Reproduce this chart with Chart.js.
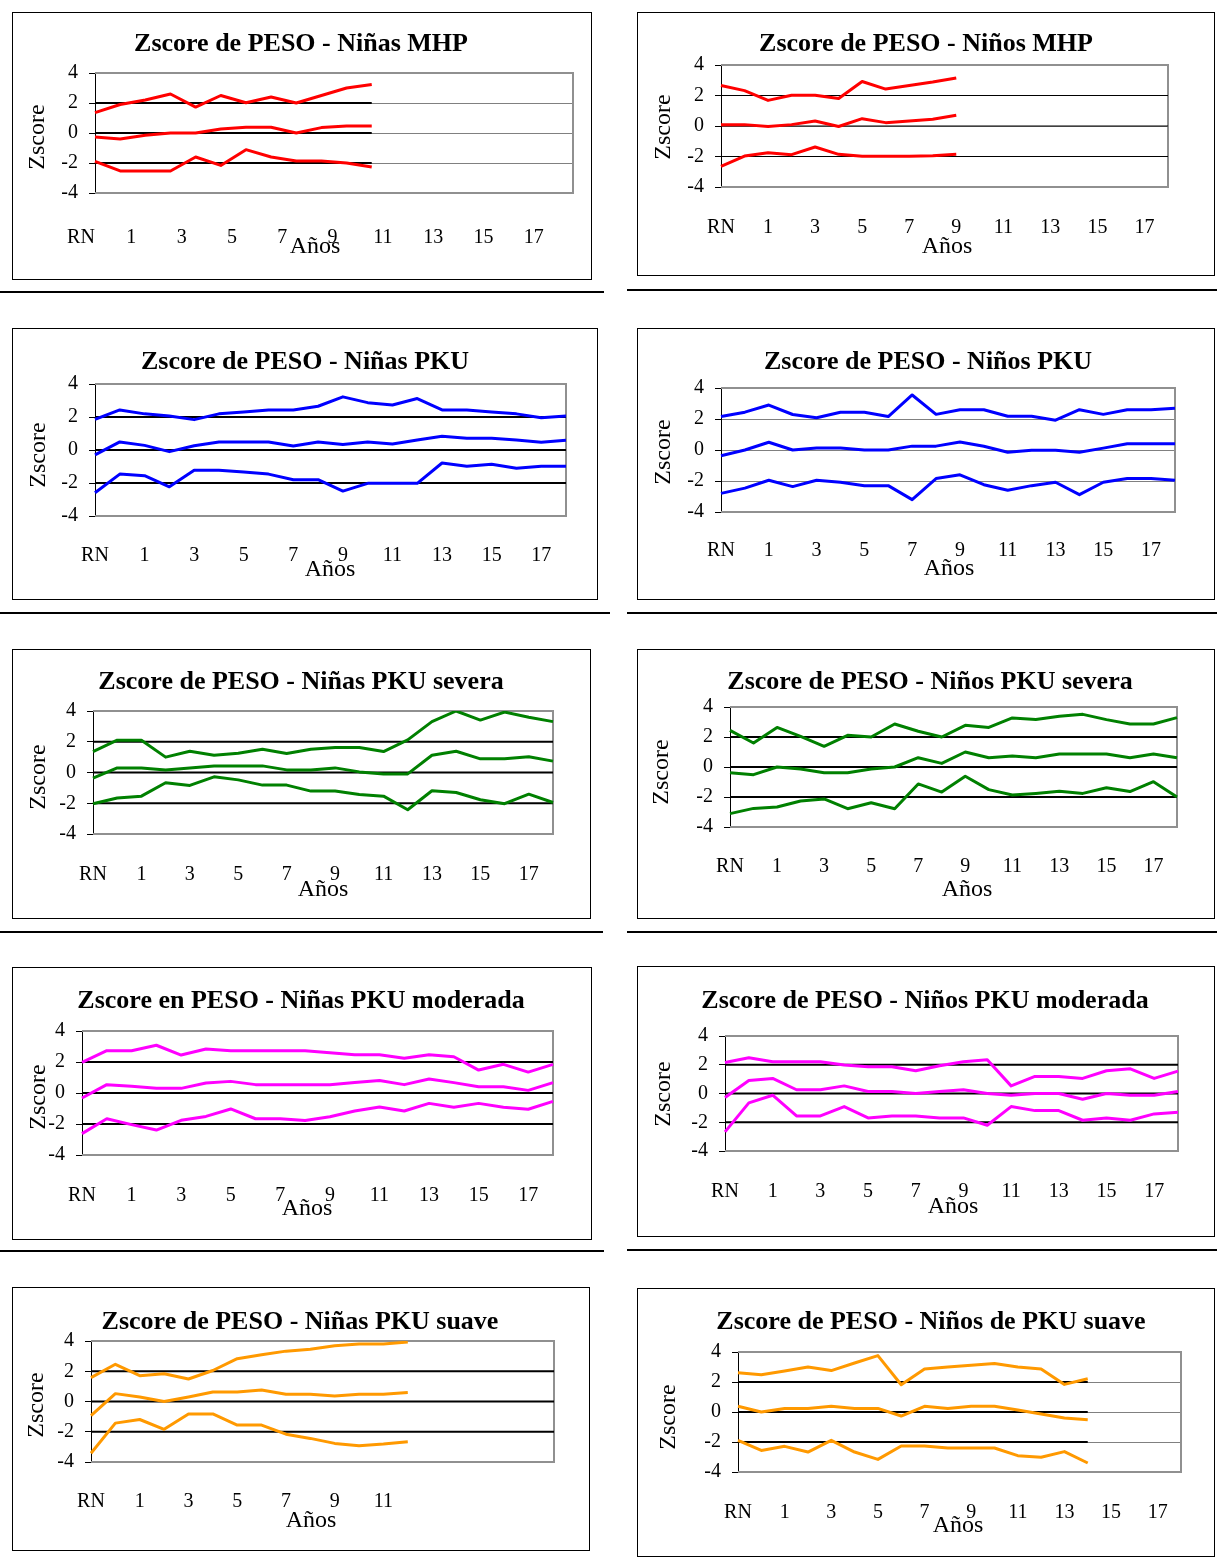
<!DOCTYPE html>
<html>
<head>
<meta charset="utf-8">
<title>Zscore de PESO</title>
<script src="https://cdn.jsdelivr.net/npm/chart.js@4.4.0/dist/chart.umd.min.js"></script>
<style>
  body { margin: 0; background: #fff; }
  #page { position: relative; width: 1217px; height: 1558px; overflow: hidden; }
  canvas { position: absolute; }
  .rule { position: absolute; height: 2px; background: #000; }
</style>
</head>
<body>
<div id="page"></div>
<script>
// categories (edad), one label shown every two
const AGES = ['RN', '6m', '1', '2', '3', '4', '5', '6', '7', '8', '9', '10', '11', '12', '13', '14', '15', '16', '17', '18']
const REF_LEVELS = [2, 0, -2]

// Niñas MHP
const ninasMhpSup = [1.36, 1.9, 2.2, 2.6, 1.73, 2.5, 2.02, 2.4, 2.0, 2.5, 3.0, 3.24]
const ninasMhpMed = [-0.27, -0.4, -0.15, 0, 0, 0.27, 0.38, 0.38, 0, 0.36, 0.47, 0.47]
const ninasMhpInf = [-1.89, -2.53, -2.53, -2.53, -1.6, -2.16, -1.11, -1.6, -1.87, -1.87, -2.0, -2.27]
// Niños MHP
const ninosMhpSup = [2.65, 2.32, 1.68, 2.02, 2.02, 1.8, 2.92, 2.42, 2.65, 2.88, 3.15]
const ninosMhpMed = [0.09, 0.09, -0.03, 0.09, 0.33, -0.03, 0.48, 0.22, 0.32, 0.44, 0.7]
const ninosMhpInf = [-2.65, -1.97, -1.75, -1.88, -1.38, -1.86, -1.98, -1.98, -1.98, -1.95, -1.86]
// Niñas PKU
const ninasPkuSup = [1.86, 2.43, 2.19, 2.06, 1.84, 2.19, 2.31, 2.43, 2.43, 2.65, 3.22, 2.87, 2.73, 3.12, 2.43, 2.43, 2.31, 2.19, 1.96, 2.06]
const ninasPkuMed = [-0.3, 0.49, 0.28, -0.1, 0.26, 0.49, 0.49, 0.49, 0.24, 0.49, 0.34, 0.49, 0.36, 0.6, 0.83, 0.71, 0.71, 0.6, 0.47, 0.59]
const ninasPkuInf = [-2.59, -1.46, -1.56, -2.23, -1.23, -1.23, -1.34, -1.46, -1.8, -1.8, -2.49, -2.02, -2.02, -2.02, -0.79, -0.99, -0.87, -1.11, -0.99, -0.99]
// Niños PKU
const ninosPkuSup = [2.16, 2.44, 2.9, 2.29, 2.08, 2.44, 2.44, 2.16, 3.55, 2.3, 2.6, 2.6, 2.18, 2.18, 1.92, 2.6, 2.3, 2.6, 2.6, 2.7]
const ninosPkuMed = [-0.37, 0, 0.5, 0, 0.13, 0.13, 0, 0, 0.25, 0.25, 0.52, 0.24, -0.15, -0.02, -0.02, -0.15, 0.12, 0.4, 0.4, 0.4]
const ninosPkuInf = [-2.8, -2.46, -1.95, -2.36, -1.95, -2.08, -2.3, -2.3, -3.2, -1.84, -1.6, -2.24, -2.6, -2.3, -2.08, -2.88, -2.08, -1.84, -1.84, -1.95]
// Niñas PKU severa
const ninasSevSup = [1.36, 2.1, 2.1, 1.0, 1.38, 1.12, 1.25, 1.51, 1.23, 1.51, 1.62, 1.62, 1.36, 2.12, 3.31, 4.0, 3.41, 3.93, 3.59, 3.31]
const ninasSevMed = [-0.37, 0.3, 0.3, 0.17, 0.3, 0.43, 0.43, 0.43, 0.17, 0.17, 0.3, 0.04, -0.09, -0.09, 1.12, 1.38, 0.89, 0.89, 1.02, 0.74]
const ninasSevInf = [-2.03, -1.66, -1.54, -0.67, -0.84, -0.28, -0.48, -0.82, -0.82, -1.21, -1.21, -1.43, -1.54, -2.42, -1.19, -1.3, -1.77, -2.03, -1.41, -1.95]
// Niños PKU severa
const ninosSevSup = [2.44, 1.6, 2.64, 2.04, 1.38, 2.11, 2.0, 2.87, 2.38, 2.0, 2.78, 2.64, 3.27, 3.16, 3.38, 3.51, 3.16, 2.87, 2.87, 3.29]
const ninosSevMed = [-0.38, -0.51, 0, -0.13, -0.38, -0.38, -0.13, 0, 0.62, 0.24, 1.0, 0.62, 0.73, 0.62, 0.87, 0.87, 0.87, 0.62, 0.87, 0.62]
const ninosSevInf = [-3.11, -2.76, -2.67, -2.27, -2.13, -2.78, -2.38, -2.78, -1.13, -1.67, -0.62, -1.51, -1.87, -1.76, -1.62, -1.76, -1.38, -1.64, -0.98, -2.0]
// Niñas PKU moderada
const ninasModSup = [1.98, 2.73, 2.73, 3.08, 2.45, 2.84, 2.73, 2.73, 2.73, 2.73, 2.6, 2.47, 2.47, 2.24, 2.47, 2.34, 1.48, 1.85, 1.35, 1.85]
const ninasModMed = [-0.32, 0.54, 0.43, 0.3, 0.3, 0.65, 0.75, 0.54, 0.54, 0.54, 0.54, 0.67, 0.8, 0.54, 0.9, 0.67, 0.41, 0.41, 0.17, 0.67]
const ninasModInf = [-2.62, -1.66, -2.04, -2.39, -1.76, -1.51, -1.03, -1.66, -1.66, -1.78, -1.53, -1.16, -0.9, -1.16, -0.67, -0.92, -0.67, -0.92, -1.05, -0.54]
// Niños PKU moderada
const ninosModSup = [2.16, 2.49, 2.21, 2.21, 2.21, 1.98, 1.86, 1.86, 1.58, 1.93, 2.21, 2.35, 0.53, 1.19, 1.19, 1.05, 1.58, 1.72, 1.05, 1.56]
const ninosModMed = [-0.28, 0.91, 1.05, 0.26, 0.26, 0.53, 0.14, 0.14, 0, 0.14, 0.26, 0, -0.12, 0, 0, -0.4, 0, -0.12, -0.12, 0.14]
const ninosModInf = [-2.67, -0.65, -0.12, -1.56, -1.56, -0.91, -1.7, -1.56, -1.56, -1.7, -1.7, -2.21, -0.91, -1.19, -1.19, -1.86, -1.7, -1.86, -1.42, -1.3]
// Niñas PKU suave
const ninasSuaSup = [1.58, 2.46, 1.71, 1.84, 1.49, 2.05, 2.83, 3.09, 3.33, 3.46, 3.68, 3.8, 3.8, 3.93]
const ninasSuaMed = [-0.93, 0.52, 0.3, 0, 0.3, 0.63, 0.63, 0.76, 0.48, 0.48, 0.37, 0.48, 0.48, 0.6]
const ninasSuaInf = [-3.42, -1.43, -1.19, -1.84, -0.82, -0.82, -1.56, -1.56, -2.16, -2.44, -2.77, -2.92, -2.81, -2.66]
// Niños de PKU suave
const ninosSuaSup = [2.62, 2.49, 2.73, 3.0, 2.76, 3.27, 3.76, 1.82, 2.87, 3.0, 3.11, 3.24, 3.0, 2.87, 1.84, 2.22]
const ninosSuaMed = [0.38, 0, 0.24, 0.24, 0.38, 0.24, 0.24, -0.27, 0.38, 0.24, 0.38, 0.38, 0.13, -0.13, -0.4, -0.51]
const ninosSuaInf = [-1.89, -2.56, -2.29, -2.67, -1.89, -2.67, -3.16, -2.27, -2.27, -2.4, -2.4, -2.4, -2.91, -3.02, -2.64, -3.4]

const RED = '#ff0000', BLUE = '#0000ff', GREEN = '#008000', PINK = '#ff00ff', ORANGE = '#ff9900'

// box / plot rectangles are page coords: [left, top, right, bottom]
const charts = [
  { title: 'Zscore de PESO - Niñas MHP', color: RED, series: [ninasMhpSup, ninasMhpMed, ninasMhpInf],
    box: [12, 12, 592, 280], plot: [95, 73, 573, 193], titleAt: [301, 44], zAt: [38, 137], aAt: [315, 247], labelY: 238, labelOffset: -14, refEnd: 11, refWidth: 2, shown: 20 },
  { title: 'Zscore de PESO - Niños MHP', color: RED, series: [ninosMhpSup, ninosMhpMed, ninosMhpInf],
    box: [637, 12, 1215, 276], plot: [721, 65, 1168, 187], titleAt: [926, 44], zAt: [664, 127], aAt: [947, 247], labelY: 228, labelOffset: 0, refEnd: 19, refWidth: 1, shown: 20 },
  { title: 'Zscore de PESO - Niñas PKU', color: BLUE, series: [ninasPkuSup, ninasPkuMed, ninasPkuInf],
    box: [12, 328, 598, 600], plot: [95, 384, 566, 516], titleAt: [305, 362], zAt: [39, 455], aAt: [330, 570], labelY: 556, labelOffset: 0, refEnd: 19, refWidth: 2, shown: 20 },
  { title: 'Zscore de PESO - Niños PKU', color: BLUE, series: [ninosPkuSup, ninosPkuMed, ninosPkuInf],
    box: [637, 328, 1215, 600], plot: [721, 388, 1175, 512], titleAt: [928, 362], zAt: [664, 452], aAt: [949, 569], labelY: 551, labelOffset: 0, refEnd: null, refWidth: 0, shown: 20 },
  { title: 'Zscore de PESO - Niñas PKU severa', color: GREEN, series: [ninasSevSup, ninasSevMed, ninasSevInf],
    box: [12, 649, 591, 919], plot: [93, 711, 553, 834], titleAt: [301, 682], zAt: [39, 777], aAt: [323, 890], labelY: 875, labelOffset: 0, refEnd: 19, refWidth: 2, shown: 20 },
  { title: 'Zscore de PESO - Niños PKU severa', color: GREEN, series: [ninosSevSup, ninosSevMed, ninosSevInf],
    box: [637, 649, 1215, 919], plot: [730, 707, 1177, 827], titleAt: [930, 682], zAt: [662, 772], aAt: [967, 890], labelY: 867, labelOffset: 0, refEnd: 19, refWidth: 2, shown: 20 },
  { title: 'Zscore en PESO - Niñas PKU moderada', color: PINK, series: [ninasModSup, ninasModMed, ninasModInf],
    box: [12, 967, 592, 1240], plot: [82, 1031, 553, 1155], titleAt: [301, 1001], zAt: [39, 1097], aAt: [307, 1209], labelY: 1196, labelOffset: 0, refEnd: 19, refWidth: 2, shown: 20 },
  { title: 'Zscore de PESO - Niños PKU moderada', color: PINK, series: [ninosModSup, ninosModMed, ninosModInf],
    box: [637, 966, 1215, 1237], plot: [725, 1036, 1178, 1151], titleAt: [925, 1001], zAt: [664, 1094], aAt: [953, 1207], labelY: 1192, labelOffset: 0, refEnd: 19, refWidth: 2, shown: 20 },
  { title: 'Zscore de PESO - Niñas PKU suave', color: ORANGE, series: [ninasSuaSup, ninasSuaMed, ninasSuaInf],
    box: [12, 1287, 590, 1551], plot: [91, 1341, 554, 1462], titleAt: [300, 1322], zAt: [37, 1405], aAt: [311, 1521], labelY: 1502, labelOffset: 0, refEnd: 19, refWidth: 2, shown: 14 },
  { title: 'Zscore de PESO - Niños de PKU suave', color: ORANGE, series: [ninosSuaSup, ninosSuaMed, ninosSuaInf],
    box: [637, 1288, 1215, 1557], plot: [738, 1352, 1181, 1472], titleAt: [931, 1322], zAt: [669, 1417], aAt: [958, 1526], labelY: 1513, labelOffset: 0, refEnd: 15, refWidth: 2, shown: 20 },
]

const rules = [
  [0, 292, 604], [627, 290, 1217],
  [0, 613, 610], [627, 613, 1217],
  [0, 932, 603], [627, 932, 1217],
  [0, 1251, 604], [627, 1250, 1217],
]

const SERIF = '"Liberation Serif", "Times New Roman", serif'
Chart.defaults.font.family = SERIF

// box outline, plot frame and free texts (title, Zscore, Años)
const frame = {
  id: 'frame',
  beforeDatasetsDraw(chart) {
    const { ctx, chartArea: { left, top, right, bottom } } = chart
    ctx.save()
    ctx.strokeStyle = '#909090'
    ctx.lineWidth = 2
    ctx.beginPath()
    ctx.moveTo(left, top)
    ctx.lineTo(right, top)
    ctx.lineTo(right, bottom)
    ctx.lineTo(left, bottom)
    ctx.stroke()
    ctx.restore()
  },
  afterDraw(chart, args, o) {
    const ctx = chart.ctx
    ctx.save()
    ctx.strokeStyle = '#000'
    ctx.lineWidth = 1
    ctx.strokeRect(0.5, 0.5, chart.width - 1, chart.height - 1)
    ctx.fillStyle = '#000'
    ctx.textAlign = 'center'
    ctx.textBaseline = 'middle'
    ctx.font = 'bold 26px ' + SERIF
    ctx.fillText(o.title, o.tx, o.ty)
    ctx.font = '24px ' + SERIF
    ctx.fillText('Años', o.ax, o.ay)
    ctx.translate(o.zx, o.zy)
    ctx.rotate(-Math.PI / 2)
    ctx.fillText('Zscore', 0, 0)
    ctx.restore()
  },
}

const page = document.getElementById('page')

rules.forEach(([x1, y, x2]) => {
  const d = document.createElement('div')
  d.className = 'rule'
  d.style.left = x1 + 'px'
  d.style.top = (y - 1) + 'px'
  d.style.width = (x2 - x1) + 'px'
  page.appendChild(d)
})

charts.forEach(c => {
  const [bl, bt, br, bb] = c.box
  const [pl, pt, pr, pb] = c.plot
  const canvas = document.createElement('canvas')
  canvas.width = br - bl
  canvas.height = bb - bt
  canvas.style.left = bl + 'px'
  canvas.style.top = bt + 'px'
  page.appendChild(canvas)

  const datasets = c.series.map(s => ({
    data: s,
    borderColor: c.color,
    borderWidth: 3,
    borderJoinStyle: 'round',
    pointRadius: 0,
    tension: 0,
    fill: false,
  }))
  if (c.refEnd !== null) {
    REF_LEVELS.forEach(lv => {
      datasets.push({
        data: [{ x: AGES[0], y: lv }, { x: AGES[c.refEnd], y: lv }],
        borderColor: '#000',
        borderWidth: c.refWidth,
        pointRadius: 0,
        fill: false,
      })
    })
  }

  new Chart(canvas, {
    type: 'line',
    data: { labels: AGES, datasets },
    options: {
      responsive: false,
      animation: false,
      devicePixelRatio: 1,
      layout: { padding: { top: pt - bt, right: br - pr, left: 0, bottom: 0 } },
      plugins: {
        legend: { display: false },
        tooltip: { enabled: false },
        frame: {
          title: c.title,
          tx: c.titleAt[0] - bl, ty: c.titleAt[1] - bt,
          zx: c.zAt[0] - bl, zy: c.zAt[1] - bt,
          ax: c.aAt[0] - bl, ay: c.aAt[1] - bt,
        },
      },
      scales: {
        x: {
          offset: false,
          grid: { display: false, drawTicks: false },
          border: { display: false },
          ticks: {
            autoSkip: false,
            maxRotation: 0,
            minRotation: 0,
            padding: (c.labelY - pb) - 12,
            labelOffset: c.labelOffset,
            color: '#000',
            font: { size: 20 },
            callback: (v, i) => (i % 2 === 0 && i < c.shown) ? AGES[i] : '',
          },
          afterFit: s => {
            s.height = bb - pb
            s.paddingLeft = 0
            s.paddingRight = 0
          },
        },
        y: {
          min: -4,
          max: 4,
          ticks: { stepSize: 2, padding: 11, color: '#000', font: { size: 20 } },
          grid: { color: '#808080', lineWidth: 1, tickLength: 6, tickColor: '#000' },
          border: { color: '#000', width: 1 },
          afterFit: s => { s.width = pl - bl },
        },
      },
    },
    plugins: [frame],
  })
})
</script>
</body>
</html>
